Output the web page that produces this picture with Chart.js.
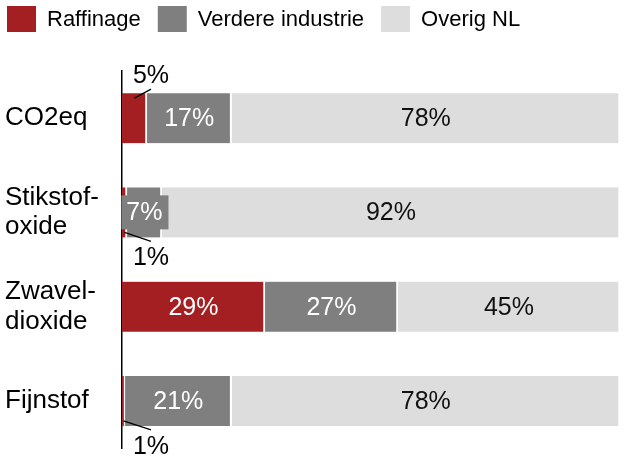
<!DOCTYPE html>
<html>
<head>
<meta charset="utf-8">
<script src="https://cdn.jsdelivr.net/npm/chart.js@4/dist/chart.umd.min.js"></script>
<style>
  html, body { margin: 0; padding: 0; background: #fff; }
  #wrap { width: 631px; height: 459px; }
</style>
</head>
<body>
<div id="wrap"><canvas id="chart" width="631" height="459"></canvas></div>
<script>
const categories = [['CO2eq'], ['Stikstof-', 'oxide'], ['Zwavel-', 'dioxide'], ['Fijnstof']];
const seriesNames = ['Raffinage', 'Verdere industrie', 'Overig NL'];
const raffinage = [5, 1, 28.7, 0.6];
const verdere = [17, 7, 26.7, 21.4];
const overig = [78, 92, 44.6, 78];

const colors = ['#a31f22', '#7f7f7f', '#dddddd'];
const labelColors = ['#ffffff', '#ffffff', '#111111'];
const FONT = "'Liberation Sans', Arial, sans-serif";

// legend drawn by hand so it sits at the very left like the original
const legendPlugin = {
  id: 'topLegend',
  afterDraw(chart) {
    const ctx = chart.ctx;
    ctx.save();
    ctx.font = '22px ' + FONT;
    ctx.textBaseline = 'middle';
    ctx.textAlign = 'left';
    let x = 7;
    chart.data.datasets.forEach(ds => {
      ctx.fillStyle = ds.backgroundColor;
      ctx.fillRect(x, 6, 29, 26);
      ctx.fillStyle = '#000';
      ctx.fillText(ds.label, x + 40, 20);
      x += 40 + ctx.measureText(ds.label).width + 17;
    });
    ctx.restore();
  }
};

// value labels, small slices get a callout line
const valueLabels = {
  id: 'valueLabels',
  afterDatasetsDraw(chart) {
    const ctx = chart.ctx;
    const left = chart.chartArea.left;
    ctx.save();
    ctx.font = '25px ' + FONT;
    ctx.textAlign = 'center';
    ctx.textBaseline = 'middle';
    chart.data.datasets.forEach((ds, i) => {
      const meta = chart.getDatasetMeta(i);
      meta.data.forEach((bar, j) => {
        const v = ds.data[j];
        const txt = Math.round(v) + '%';
        const cx = (bar.x + bar.base) / 2;
        const top = bar.y - bar.height / 2;
        const bottom = bar.y + bar.height / 2;
        const w = Math.abs(bar.x - bar.base);
        const tw = ctx.measureText(txt).width;
        if (v <= 5) {
          const above = j === 0;
          const ex = left + 29;
          ctx.strokeStyle = '#000';
          ctx.lineWidth = 1.2;
          ctx.beginPath();
          if (above) {
            ctx.moveTo(cx, top + 5);
            ctx.lineTo(ex, top - 4);
          } else {
            ctx.moveTo(cx, bottom - 5);
            ctx.lineTo(ex, bottom + 4);
          }
          ctx.stroke();
          ctx.fillStyle = '#000';
          ctx.fillText(txt, ex, above ? top - 17 : bottom + 21);
          return;
        }
        if (tw > w - 4) {
          ctx.fillStyle = ds.backgroundColor;
          ctx.fillRect(cx - tw / 2 - 5, bar.y - 17, tw + 11, 34);
        }
        ctx.fillStyle = labelColors[i];
        ctx.fillText(txt, cx, bar.y + 1);
      });
    });
    ctx.restore();
  }
};

const seriesData = [raffinage, verdere, overig];

new Chart(document.getElementById('chart'), {
  type: 'bar',
  data: {
    labels: categories,
    datasets: seriesNames.map((name, i) => ({
      label: name,
      data: seriesData[i],
      backgroundColor: colors[i],
      borderColor: '#ffffff',
      borderWidth: { left: 0, right: 2, top: 0, bottom: 0 },
      borderSkipped: false,
      barThickness: 50
    }))
  },
  options: {
    indexAxis: 'y',
    responsive: false,
    animation: false,
    events: [],
    layout: { padding: { top: 71, bottom: 11, left: 5, right: 11 } },
    plugins: {
      legend: { display: false },
      tooltip: { enabled: false }
    },
    scales: {
      x: {
        stacked: true,
        min: 0,
        max: 100,
        display: false
      },
      y: {
        stacked: true,
        afterFit(scale) {
          scale.width = 117;
          scale.paddingTop = 0;
          scale.paddingBottom = 0;
        },
        grid: { display: false, drawTicks: false },
        border: { display: true, color: '#000', width: 1.5 },
        ticks: {
          crossAlign: 'far',
          color: '#000',
          font: { family: FONT, size: 26, lineHeight: 1.15 }
        }
      }
    }
  },
  plugins: [legendPlugin, valueLabels]
});
</script>
</body>
</html>
